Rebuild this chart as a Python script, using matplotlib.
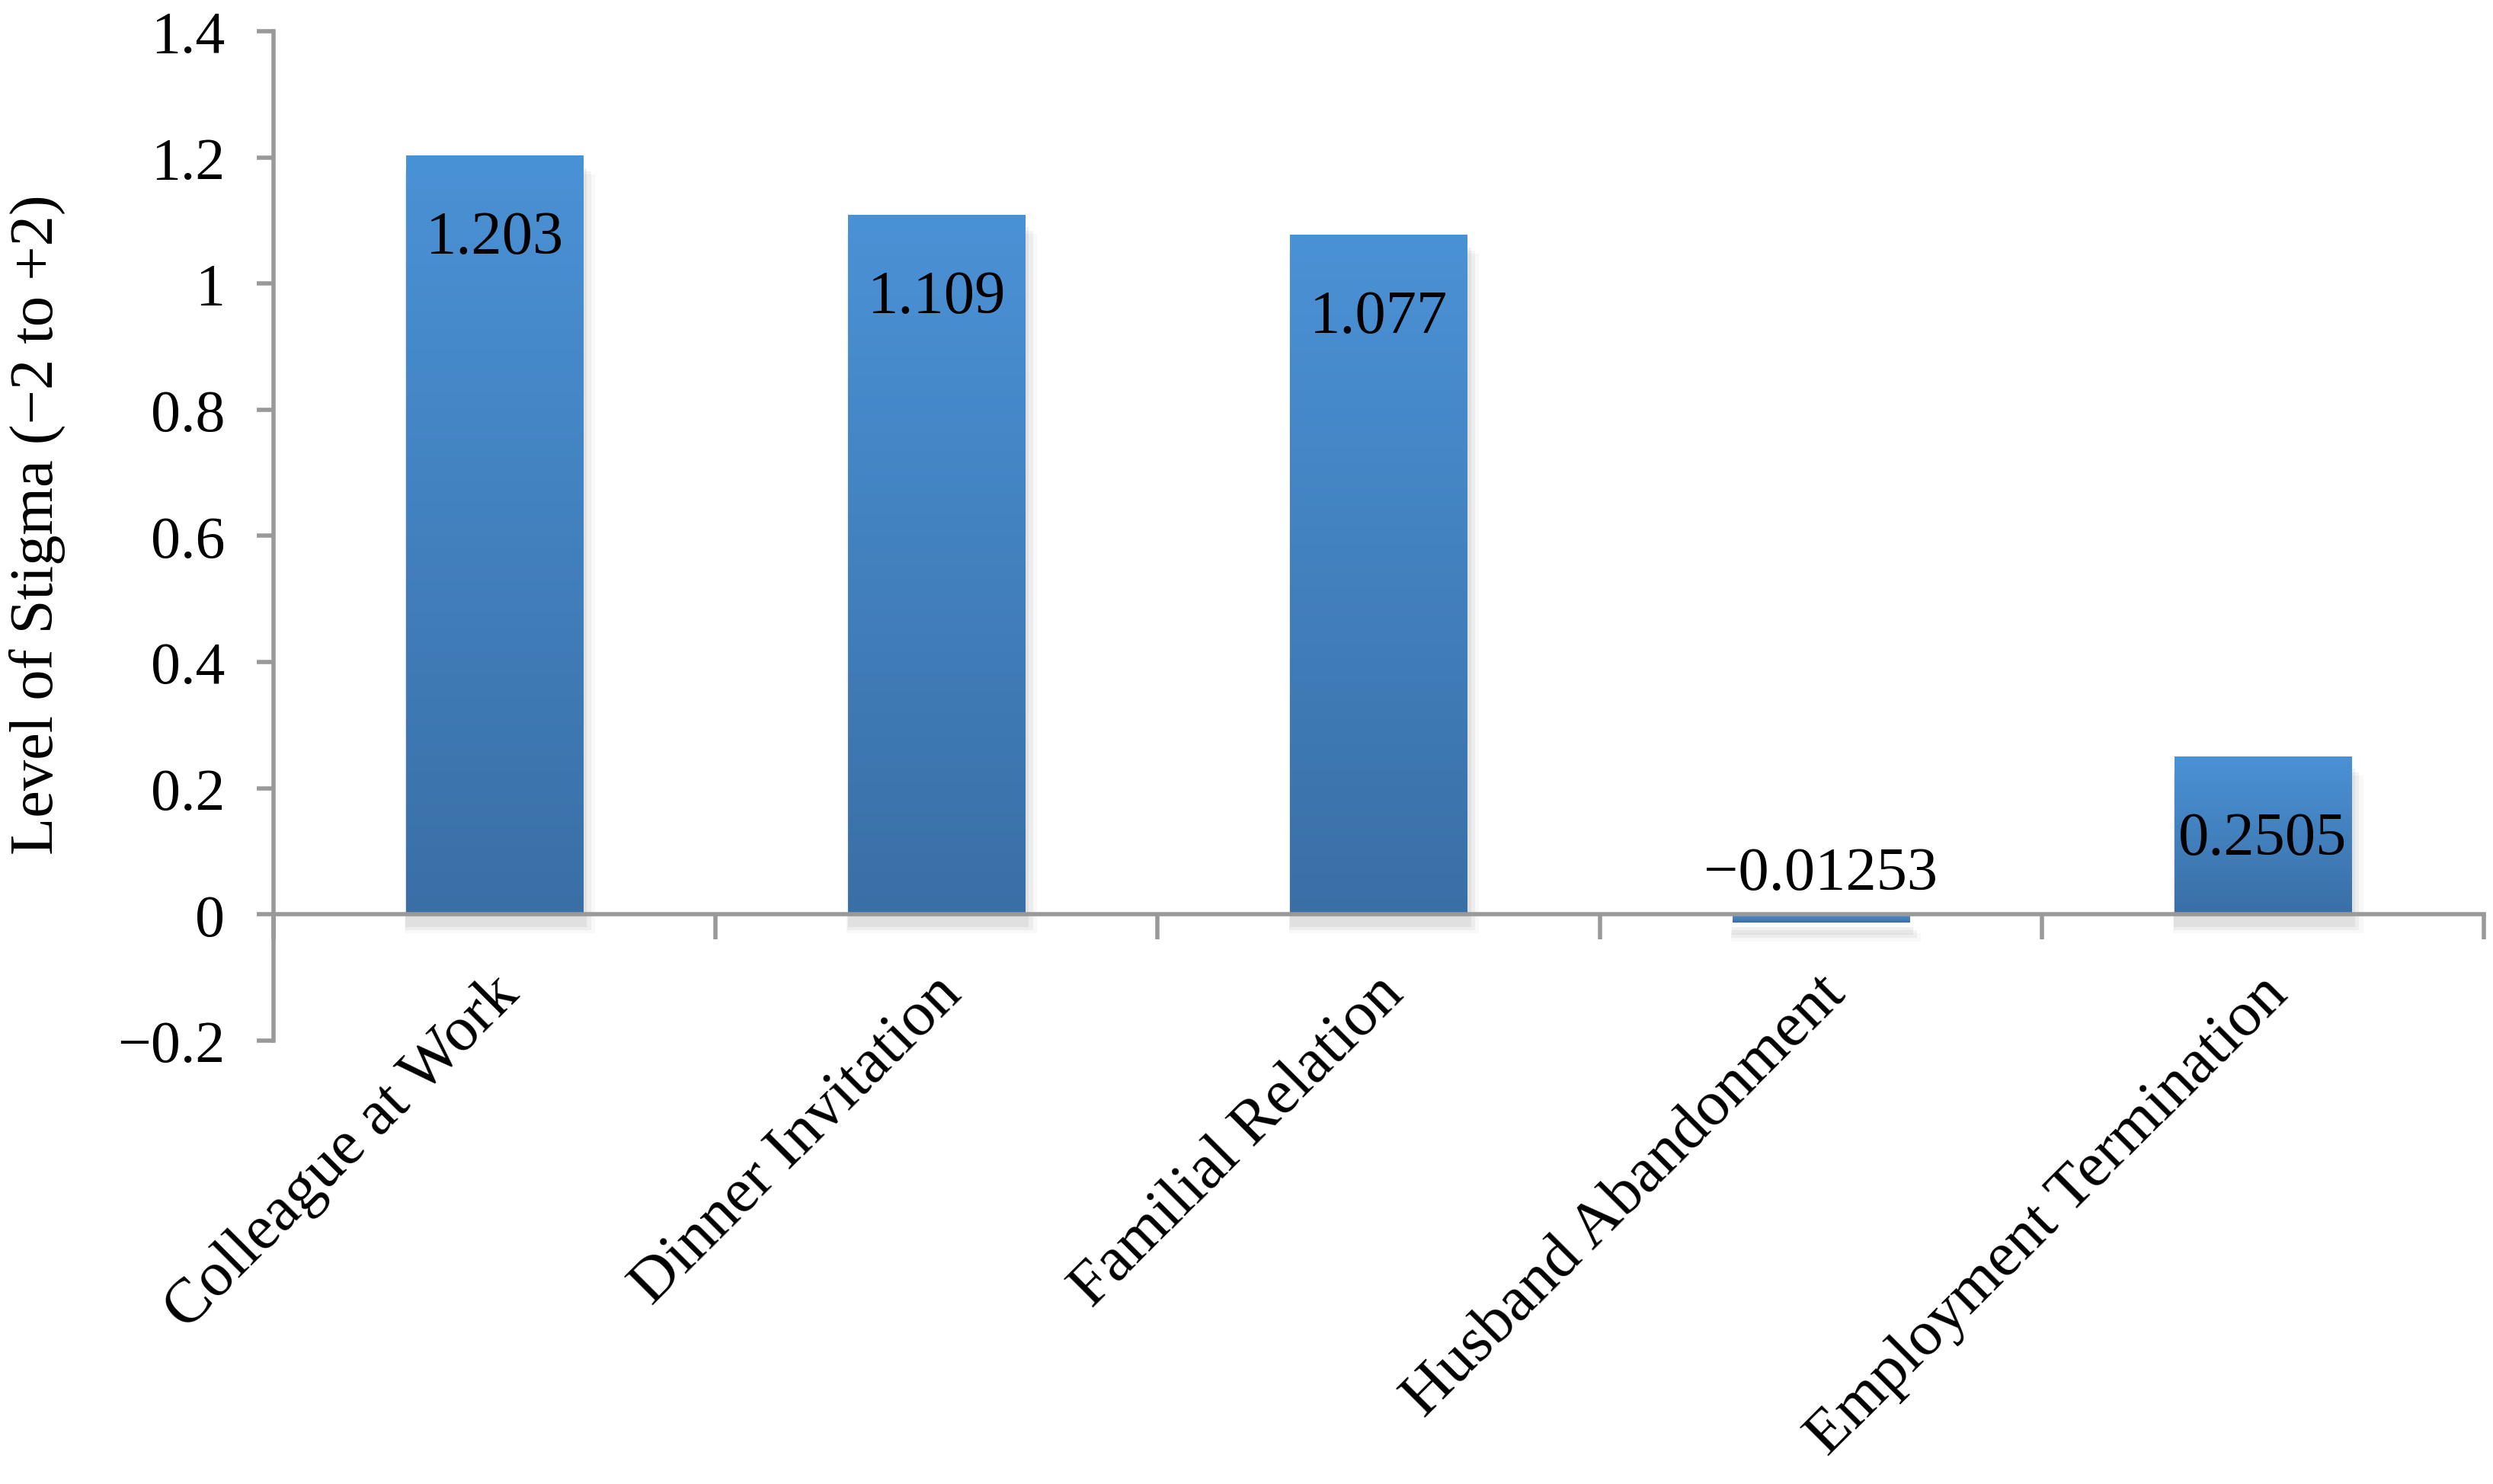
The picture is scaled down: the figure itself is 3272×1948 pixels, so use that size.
import numpy as np
import matplotlib.pyplot as plt
from matplotlib.colors import LinearSegmentedColormap

categories = ["Colleague at Work", "Dinner Invitation", "Familial Relation",
              "Husband Abandonment", "Employment Termination"]
values = [1.203, 1.109, 1.077, -0.01253, 0.2505]
ytick_vals = [-0.2, 0, 0.2, 0.4, 0.6, 0.8, 1, 1.2, 1.4]
ytick_labels = ["\u22120.2", "0", "0.2", "0.4", "0.6", "0.8", "1", "1.2", "1.4"]

plt.rcParams['font.family'] = ['Liberation Serif', 'DejaVu Serif']
FS = 28
AXCOL = '#999999'

fig = plt.figure(figsize=(16.36, 9.745), dpi=200)
ax = fig.add_axes([0.1097, 0.2986, 0.8866, 0.6799])

x = np.arange(len(categories))
width = 0.4

# soft shadow under the bars
for k, a in enumerate([0.12, 0.09, 0.06]):
    off = 0.005 * (k + 1)
    ax.bar(x + 0.004 * (k + 1), values, width + 0.01 * (k + 1), bottom=-0.015 - off,
           color='#888888', alpha=a, zorder=1, linewidth=0)

bars = ax.bar(x, values, width, color='#4584c4', zorder=2, linewidth=0)

# vertical gradient fill, lighter at the top
cmap = LinearSegmentedColormap.from_list('g', ['#3a6fa6', '#4a92d6'])
grad = np.linspace(0, 1, 256).reshape(-1, 1)
for b in bars:
    x0 = b.get_x()
    y0 = b.get_y()
    h = b.get_height()
    lo, hi = min(y0, y0 + h), max(y0, y0 + h)
    im = ax.imshow(grad, cmap=cmap, origin='lower', aspect='auto',
                   extent=[x0, x0 + b.get_width(), lo, hi], zorder=3)
    im.set_clip_path(b)

ax.set_xlim(-0.5, len(categories) - 0.5)
ax.set_ylim(-0.2, 1.4)

for i, v in enumerate(values):
    lab = str(v).replace('-', '\u2212')
    if v > 0.1:
        ax.annotate(lab, (i, v), xytext=(0, -39), textcoords='offset points',
                    ha='center', va='center', fontsize=FS + 1, zorder=5)
    else:
        ax.annotate(lab, (i, 0), xytext=(0, 19), textcoords='offset points',
                    ha='center', va='center', fontsize=FS + 1, zorder=5)

for s in ['top', 'right']:
    ax.spines[s].set_visible(False)
ax.spines['bottom'].set_position(('data', 0))
ax.spines['bottom'].set_color(AXCOL)
ax.spines['left'].set_color(AXCOL)
ax.spines['bottom'].set_linewidth(2)
ax.spines['left'].set_linewidth(2)
ax.spines['bottom'].set_zorder(4)

ax.set_yticks(ytick_vals)
ax.set_yticklabels(ytick_labels, fontsize=FS)
ax.tick_params(axis='y', direction='out', length=8, width=2, color=AXCOL, pad=15)

# category boundary ticks on the x axis, labels at centres
ax.set_xticks(np.arange(-0.5, len(categories)), minor=False)
ax.set_xticklabels([])
ax.tick_params(axis='x', direction='out', length=12, width=2, color=AXCOL)
for i, c in enumerate(categories):
    ax.annotate(c, (i, -0.2), xytext=(-2, 36), textcoords='offset points',
                ha='right', va='top', rotation=45, rotation_mode='anchor',
                fontsize=30, annotation_clip=False)

ax.set_ylabel("Level of Stigma (\u22122 to +2)", fontsize=FS + 1)
ax.yaxis.set_label_coords(-0.094, 0.512)

fig.savefig('out.png', dpi=200)
